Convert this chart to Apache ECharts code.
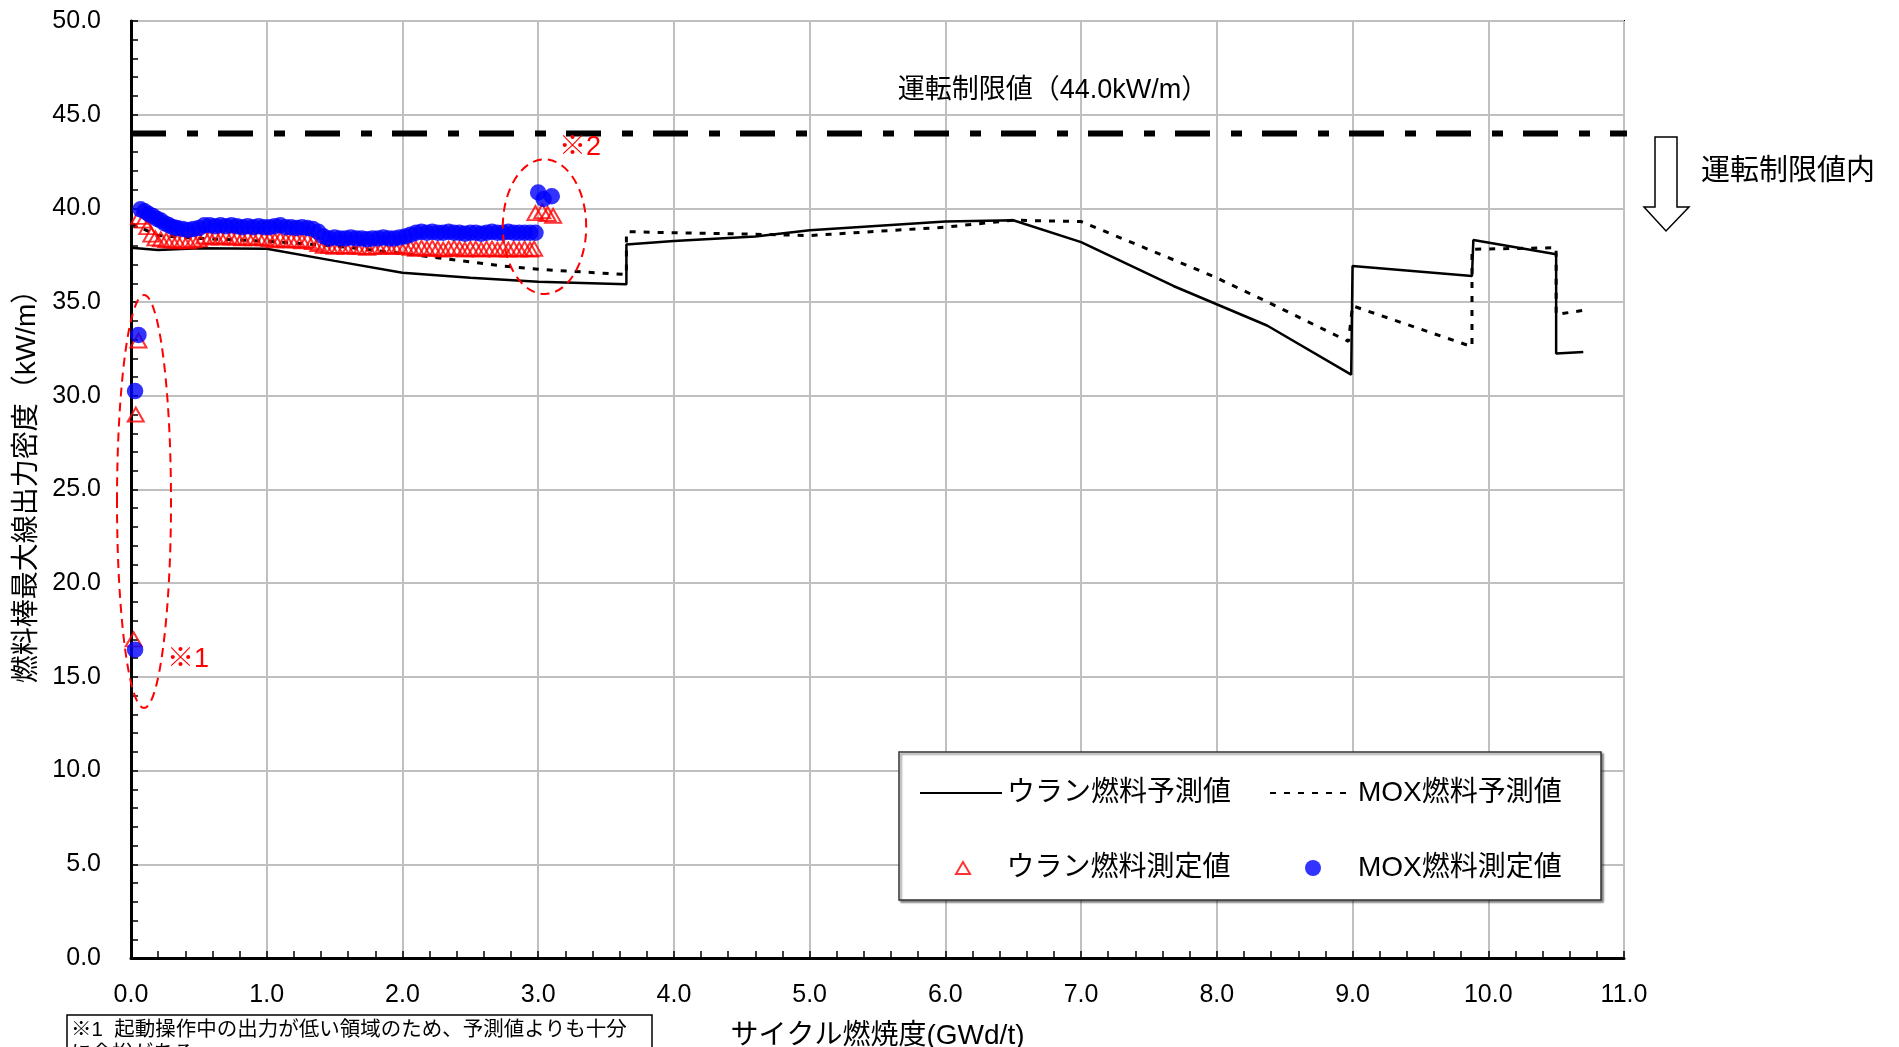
<!DOCTYPE html>
<html>
<head>
<meta charset="utf-8">
<script src="https://cdn.jsdelivr.net/npm/echarts@6/dist/echarts.min.js"></script>
<style>
html,body{margin:0;padding:0;background:#fff;}
#chart{width:1899px;height:1047px;}
</style>
</head>
<body>
<div id="chart"></div>
<script>
// ---- data ----
const xTicks = [0, 11, 1];          // min, max, interval (GWd/t)
const yTicks = [0, 50, 5];          // min, max, interval (kW/m)
const limitValue = 44.0;
const limitLine = [[0, 44.0], [11.06, 44.0]];

const uranPred = [
  [0.0, 37.9], [0.2, 37.78], [0.5, 37.88], [1.0, 37.85], [1.5, 37.2], [2.0, 36.57],
  [2.5, 36.3], [3.0, 36.08], [3.65, 35.95], [3.65, 38.08], [4.0, 38.26], [4.6, 38.5],
  [5.0, 38.83], [6.0, 39.3], [6.5, 39.37], [7.0, 38.2], [7.68, 35.86], [8.37, 33.75],
  [8.99, 31.13], [9.0, 36.92], [9.88, 36.39], [9.89, 38.31], [10.5, 37.55],
  [10.5, 32.26], [10.7, 32.34]
];

const moxPred = [
  [0.0, 39.2], [0.2, 38.55], [0.5, 38.4], [1.0, 38.25], [1.5, 38.0], [1.75, 37.8],
  [2.2, 37.42], [2.75, 36.92], [3.0, 36.75], [3.65, 36.47], [3.65, 38.76], [4.0, 38.7],
  [4.6, 38.62], [5.0, 38.55], [6.0, 39.0], [6.5, 39.37], [7.0, 39.3], [7.97, 36.39],
  [8.37, 35.02], [8.97, 32.9], [9.0, 34.8], [9.88, 32.62], [9.88, 37.82], [10.5, 37.9],
  [10.5, 34.34], [10.7, 34.56]
];

const uranMeas = [
  [0.02, 17.0], [0.035, 29.0], [0.055, 32.95],
  [0.06, 39.55], [0.09, 39.35], [0.12, 39.0], [0.15, 38.6], [0.18, 38.4], [0.22, 38.35],
  [0.26, 38.3], [0.30, 38.3], [0.34, 38.25], [0.38, 38.3], [0.42, 38.25], [0.46, 38.3],
  [0.50, 38.35], [0.54, 38.5], [0.58, 38.45], [0.62, 38.5], [0.66, 38.45], [0.70, 38.5],
  [0.74, 38.45], [0.78, 38.45], [0.82, 38.4], [0.86, 38.45], [0.90, 38.4], [0.94, 38.45],
  [0.98, 38.4], [1.02, 38.35], [1.06, 38.3], [1.10, 38.35], [1.14, 38.3], [1.18, 38.3],
  [1.22, 38.3], [1.26, 38.25], [1.30, 38.3], [1.34, 38.2], [1.38, 38.1], [1.42, 38.0],
  [1.46, 38.0], [1.50, 37.95], [1.54, 38.0], [1.58, 37.95], [1.62, 38.0], [1.66, 37.95],
  [1.70, 37.95], [1.74, 37.9], [1.78, 37.95], [1.82, 37.95], [1.86, 38.0], [1.90, 37.95],
  [1.94, 37.95], [1.98, 38.0], [2.02, 37.95], [2.06, 37.9], [2.10, 37.85], [2.14, 37.9],
  [2.18, 37.85], [2.22, 37.9], [2.26, 37.85], [2.30, 37.8], [2.34, 37.85], [2.38, 37.9],
  [2.42, 37.85], [2.46, 37.8], [2.50, 37.85], [2.54, 37.85], [2.58, 37.8], [2.62, 37.85],
  [2.66, 37.85], [2.70, 37.8], [2.74, 37.85], [2.78, 37.8], [2.82, 37.85], [2.86, 37.8],
  [2.90, 37.85], [2.94, 37.8], [2.97, 37.85],
  [2.98, 39.75], [3.03, 39.85], [3.07, 39.7], [3.11, 39.6]
];

const moxMeas = [
  [0.03, 16.45], [0.03, 30.25], [0.055, 33.25],
  [0.07, 39.95], [0.10, 39.85], [0.13, 39.7], [0.16, 39.6], [0.19, 39.45], [0.22, 39.35],
  [0.25, 39.2], [0.28, 39.1], [0.31, 39.0], [0.34, 38.95], [0.38, 38.9], [0.42, 38.85],
  [0.46, 38.9], [0.50, 38.95], [0.54, 39.1], [0.58, 39.1], [0.62, 39.05], [0.66, 39.1],
  [0.70, 39.05], [0.74, 39.1], [0.78, 39.05], [0.82, 39.0], [0.86, 39.05], [0.90, 39.0],
  [0.94, 39.05], [0.98, 39.0], [1.02, 39.0], [1.06, 39.05], [1.10, 39.1], [1.14, 39.0],
  [1.18, 39.0], [1.22, 38.95], [1.26, 39.0], [1.30, 38.95], [1.34, 38.9], [1.38, 38.75],
  [1.42, 38.5], [1.46, 38.4], [1.50, 38.45], [1.54, 38.4], [1.58, 38.4], [1.62, 38.45],
  [1.66, 38.4], [1.70, 38.4], [1.74, 38.35], [1.78, 38.4], [1.82, 38.4], [1.86, 38.45],
  [1.90, 38.4], [1.94, 38.4], [1.98, 38.45], [2.02, 38.5], [2.06, 38.6], [2.10, 38.7],
  [2.14, 38.75], [2.18, 38.7], [2.22, 38.75], [2.26, 38.7], [2.30, 38.7], [2.34, 38.75],
  [2.38, 38.7], [2.42, 38.7], [2.46, 38.65], [2.50, 38.7], [2.54, 38.7], [2.58, 38.65],
  [2.62, 38.7], [2.66, 38.75], [2.70, 38.7], [2.74, 38.7], [2.78, 38.75], [2.82, 38.7],
  [2.86, 38.7], [2.90, 38.7], [2.94, 38.7], [2.98, 38.7],
  [3.00, 40.85], [3.04, 40.5], [3.10, 40.65]
];

const names = ['ウラン燃料予測値', 'MOX燃料予測値', 'ウラン燃料測定値', 'MOX燃料測定値'];
const texts = {
  xName: 'サイクル燃焼度(GWd/t)',
  yName: '燃料棒最大線出力密度（kW/m）',
  limit: '運転制限値（44.0kW/m）',
  within: '運転制限値内',
  note1: '※1',
  note2: '※2',
  foot1: '※1  起動操作中の出力が低い領域のため、予測値よりも十分',
  foot2: 'に余裕がある'
};

// ---- chart ----
const FONT = "'Liberation Sans', 'Noto Sans CJK JP', sans-serif";
const chart = echarts.init(document.getElementById('chart'), null, {renderer: 'canvas'});

const legendText = {fontSize: 28, color: '#000', fontFamily: FONT};
const triPath = 'path://M7,0L14,12L0,12Z';
const circPath = 'path://M0,8A8,8,0,1,1,16,8A8,8,0,1,1,0,8Z';
const hiddenDot = {color: 'rgba(0,0,0,0)', borderWidth: 0, borderColor: 'rgba(0,0,0,0)'};

const option = {
  backgroundColor: '#fff',
  animation: false,
  grid: {left: 131, right: 275, top: 21, bottom: 89, show: true,
         containLabel: false, outerBoundsMode: 'none',
         borderColor: '#000', borderWidth: 2, backgroundColor: 'transparent'},
  xAxis: {
    type: 'value', min: xTicks[0], max: xTicks[1], interval: xTicks[2],
    name: texts.xName, nameLocation: 'middle', nameGap: 64,
    nameTextStyle: {fontSize: 28, color: '#000', fontFamily: FONT},
    axisLine: {show: true, onZero: false, lineStyle: {color: '#000', width: 3}},
    axisTick: {show: true, inside: true, length: 7, lineStyle: {color: '#000', width: 1.5}},
    minorTick: {show: true, splitNumber: 5, length: 7, lineStyle: {color: '#000', width: 1.5}},
    axisLabel: {formatter: v => v.toFixed(1), fontSize: 25, margin: 25, color: '#000', fontFamily: FONT},
    splitLine: {show: true, lineStyle: {color: '#c0c0c0', width: 2}}
  },
  yAxis: {
    type: 'value', min: yTicks[0], max: yTicks[1], interval: yTicks[2],
    name: texts.yName, nameLocation: 'middle', nameGap: 87, nameRotate: 90,
    nameTextStyle: {fontSize: 28, color: '#000', fontFamily: FONT, padding: [0, 0, 0, 20]},
    axisLine: {show: true, onZero: false, lineStyle: {color: '#000', width: 3}},
    axisTick: {show: true, inside: true, length: 7, lineStyle: {color: '#000', width: 1.5}},
    minorTick: {show: true, splitNumber: 5, length: 7, lineStyle: {color: '#000', width: 1.5}},
    axisLabel: {formatter: v => v.toFixed(1), fontSize: 25, margin: 30, color: '#000', fontFamily: FONT},
    splitLine: {show: true, lineStyle: {color: '#c0c0c0', width: 2}}
  },
  legend: [
    {data: [{name: names[0], itemStyle: hiddenDot}], left: 919, top: 779, itemWidth: 82, itemHeight: 14, padding: 0,
     selectedMode: false, textStyle: legendText},
    {data: [{name: names[1], itemStyle: hiddenDot}], left: 1269, top: 779, itemWidth: 83, itemHeight: 14, padding: 0,
     selectedMode: false, textStyle: legendText},
    {data: [{name: names[2], icon: triPath,
             itemStyle: {color: 'rgba(0,0,0,0)', borderColor: '#ff0000', borderWidth: 2}}],
     left: 955, top: 854, itemWidth: 77, itemHeight: 12, padding: 0,
     selectedMode: false, textStyle: legendText},
    {data: [{name: names[3], icon: circPath, itemStyle: {color: '#0000ff', borderWidth: 0}}],
     left: 1305, top: 854, itemWidth: 80, itemHeight: 16, padding: 0,
     selectedMode: false, textStyle: legendText}
  ],
  graphic: [
    {type: 'rect', z: 3, shape: {x: 899, y: 752, width: 702, height: 148},
     style: {fill: '#fff', stroke: '#333', lineWidth: 1.5,
             shadowBlur: 2, shadowOffsetX: 2, shadowOffsetY: 2, shadowColor: 'rgba(0,0,0,0.45)'}},
    {type: 'text', z: 10, x: 1053, y: 91,
     style: {text: texts.limit, fontSize: 27, fontFamily: FONT, fill: '#000', align: 'center', verticalAlign: 'middle'}},
    {type: 'polygon', z: 10,
     shape: {points: [[1655, 137], [1677, 137], [1677, 207], [1689, 207], [1666, 231],
                      [1644, 207], [1655, 207]]},
     style: {fill: '#fff', stroke: '#000', lineWidth: 1.5}},
    {type: 'text', z: 10, x: 1701, y: 172,
     style: {text: texts.within, fontSize: 29, fontFamily: FONT, fill: '#000', align: 'left', verticalAlign: 'middle'}},
    {type: 'ellipse', z: 10, shape: {cx: 144, cy: 501.5, rx: 27, ry: 206.5},
     style: {fill: 'none', stroke: '#ff0000', lineWidth: 2, lineDash: [9, 6]}},
    {type: 'ellipse', z: 10, shape: {cx: 544.5, cy: 226.7, rx: 41.7, ry: 67.3},
     style: {fill: 'none', stroke: '#ff0000', lineWidth: 2, lineDash: [9, 6]}},
    {type: 'text', z: 10, x: 167, y: 660,
     style: {text: texts.note1, fontSize: 27, fontFamily: FONT, fill: '#ff0000', align: 'left', verticalAlign: 'middle'}},
    {type: 'text', z: 10, x: 559, y: 148,
     style: {text: texts.note2, fontSize: 27, fontFamily: FONT, fill: '#ff0000', align: 'left', verticalAlign: 'middle'}},
    {type: 'rect', z: 10, shape: {x: 67, y: 1015, width: 585, height: 60},
     style: {fill: '#fff', stroke: '#000', lineWidth: 1.5}},
    {type: 'text', z: 11, x: 71, y: 1030,
     style: {text: texts.foot1, fontSize: 20.5, fontFamily: FONT, fill: '#000', align: 'left', verticalAlign: 'middle'}},
    {type: 'text', z: 11, x: 71, y: 1054,
     style: {text: texts.foot2, fontSize: 20.5, fontFamily: FONT, fill: '#000', align: 'left', verticalAlign: 'middle'}}
  ],
  series: [
    {name: '運転制限値', type: 'line', data: limitLine, symbol: 'none', clip: false, silent: true,
     lineStyle: {color: '#000', width: 6, type: [35, 21, 11, 20], cap: 'butt'}, z: 3},
    {name: names[0], type: 'line', data: uranPred, symbol: 'none',
     lineStyle: {color: '#000', width: 2.5}, itemStyle: {color: '#000'}, z: 2},
    {name: names[1], type: 'line', data: moxPred, symbol: 'none',
     lineStyle: {color: '#000', width: 3, type: [6, 8]}, itemStyle: {color: '#000'}, z: 2},
    {name: names[2], type: 'scatter', data: uranMeas, symbol: 'triangle', symbolSize: [16, 14],
     itemStyle: {color: 'rgba(0,0,0,0)', borderColor: '#ff0000', borderWidth: 2}, z: 4},
    {name: names[3], type: 'scatter', data: moxMeas, symbol: 'circle', symbolSize: 16.5,
     itemStyle: {color: '#0000ff'}, z: 5}
  ]
};
chart.setOption(option);
</script>
</body>
</html>
